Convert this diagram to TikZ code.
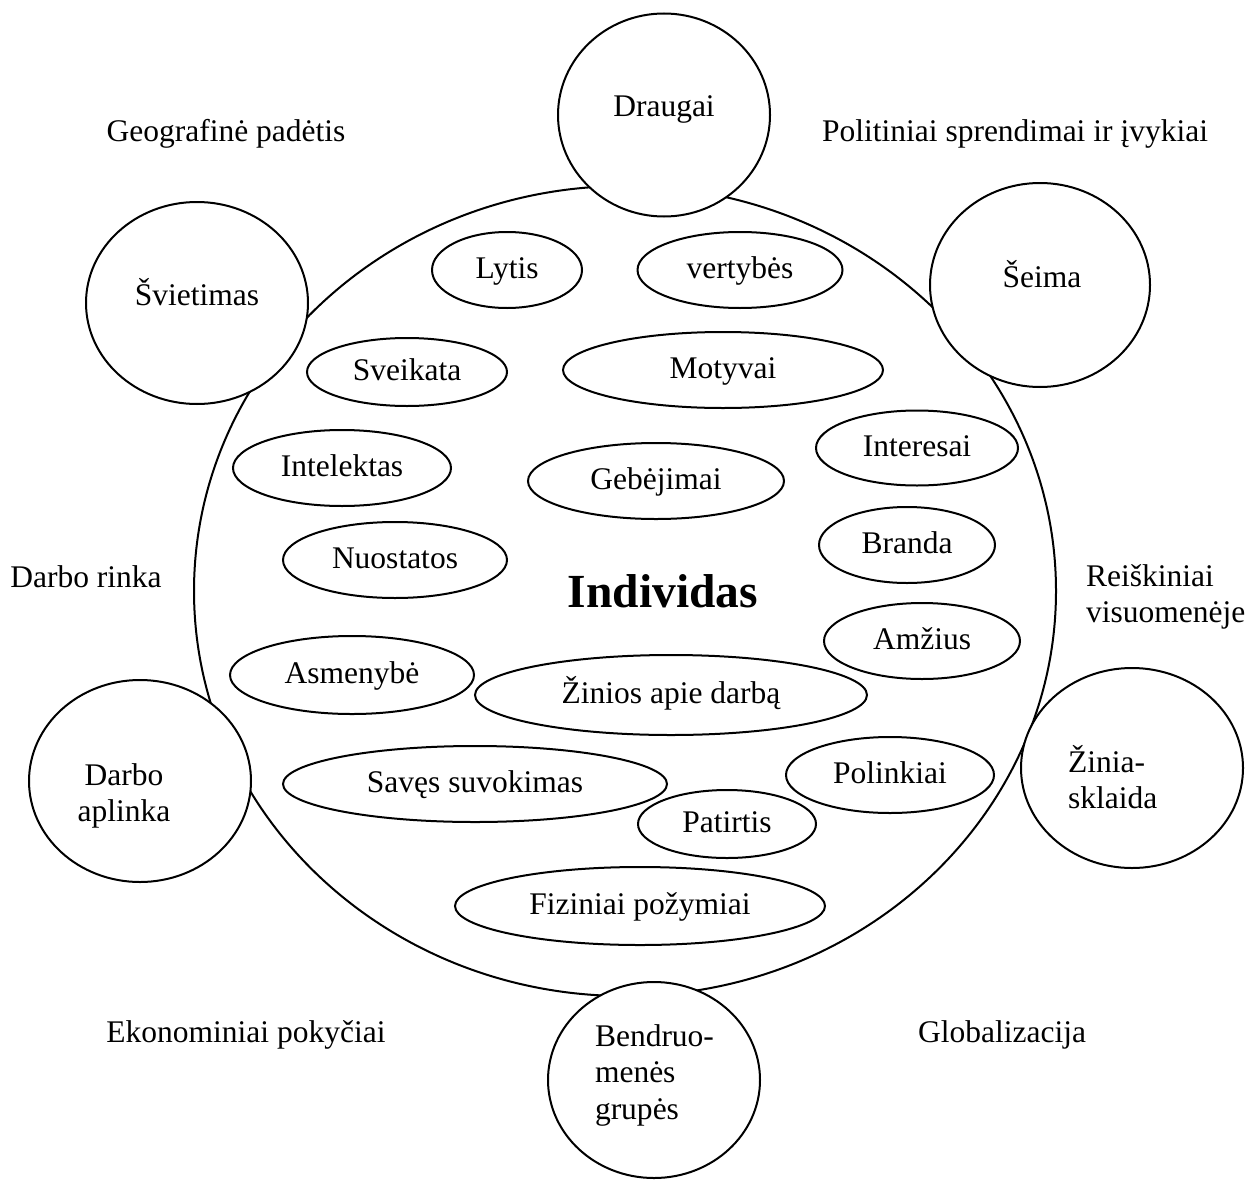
\documentclass[tikz,border=0pt]{standalone}
\usepackage{fontspec}
\setmainfont{Liberation Serif}
\usetikzlibrary{shapes,positioning}

\begin{document}
\begin{tikzpicture}[x=1pt,y=-1pt,line width=2pt,inner sep=0pt,outer sep=0pt,
  txt/.style={font=\fontsize{31.5}{36.5}\selectfont},
  oval/.style 2 args={draw,ellipse,txt,text height=22pt,text depth=5pt,
    minimum width=#1pt,minimum height=#2pt},
  ring/.style 2 args={draw,ellipse,fill=white,minimum width=#1pt,minimum height=#2pt}]
\useasboundingbox (0,0) rectangle (1246,1180);

\node (individ) at (625,591) [draw,ellipse,minimum width=862pt,minimum height=810pt] {};
\node (title) at (663,607) [anchor=base,font=\fontsize{47.5}{50}\selectfont\bfseries] {Individas};

\node (draugai) at (664,115) [ring={212}{203}] {};
\node (seima) at (1040,285) [ring={220}{204}] {};
\node (svietimas) at (197,303) [ring={222}{202}] {};
\node (aplinka) at (140,781) [ring={222}{202}] {};
\node (media) at (1132,768) [ring={222}{200}] {};
\node (grupes) at (654,1080) [ring={212}{196}] {};

\node at (draugai) [txt,yshift=6pt,text height=22pt,text depth=7pt] {Draugai};
\node at (1042,280) [txt,text height=22pt,text depth=7pt] {Šeima};
\node at (197,298) [txt,text height=22pt,text depth=7pt] {Švietimas};
\node at (124,796) [txt,align=center] {Darbo\\aplinka};
\node at (1068,777) [txt,align=left,anchor=west] {Žinia-\\sklaida};
\node at (595,1075) [txt,align=left,anchor=west] {Bendruo-\\menės\\grupės};

\node (lytis) at (507,270) [oval={150}{76}] {Lytis};
\node (vertybes) at (740,270) [oval={205}{76}] {vertybės};
\node (sveikata) at (407,372) [oval={200}{68}] {Sveikata};
\node (motyvai) at (723,370) [oval={320}{76}] {Motyvai};
\node (intelektas) at (342,468) [oval={218}{76}] {Intelektas};
\node (gebejimai) at (656,481) [oval={256}{76}] {Gebėjimai};
\node (interesai) at (917,448) [oval={202}{75}] {Interesai};
\node (nuostatos) at (395,560) [oval={224}{76}] {Nuostatos};
\node (branda) at (907,545) [oval={176}{76}] {Branda};
\node (amzius) at (922,641) [oval={196}{76}] {Amžius};
\node (asmenybe) at (352,675) [oval={244}{78}] {Asmenybė};
\node (zinios) at (671,695) [oval={392}{80}] {Žinios apie darbą};
\node (suvokimas) at (475,784) [oval={384}{76}] {Savęs suvokimas};
\node (polinkiai) at (890,775) [oval={208}{76}] {Polinkiai};
\node (patirtis) at (727,824) [oval={178}{68}] {Patirtis};
\node (fiziniai) at (640,906) [oval={370}{78}] {Fiziniai požymiai};

\node (geo) at (226,134) [txt] {Geografinė padėtis};
\node (polit) at (1015,134) [txt] {Politiniai sprendimai ir įvykiai};
\node (rinka) at (86,577) [txt] {Darbo rinka};
\node (reisk) at (1086,597) [txt,align=left,anchor=west] {Reiškiniai\\visuomenėje};
\node (ekon) at (246,1035) [txt] {Ekonominiai pokyčiai};
\node (glob) at (1002,1035) [txt] {Globalizacija};

\end{tikzpicture}
\end{document}
